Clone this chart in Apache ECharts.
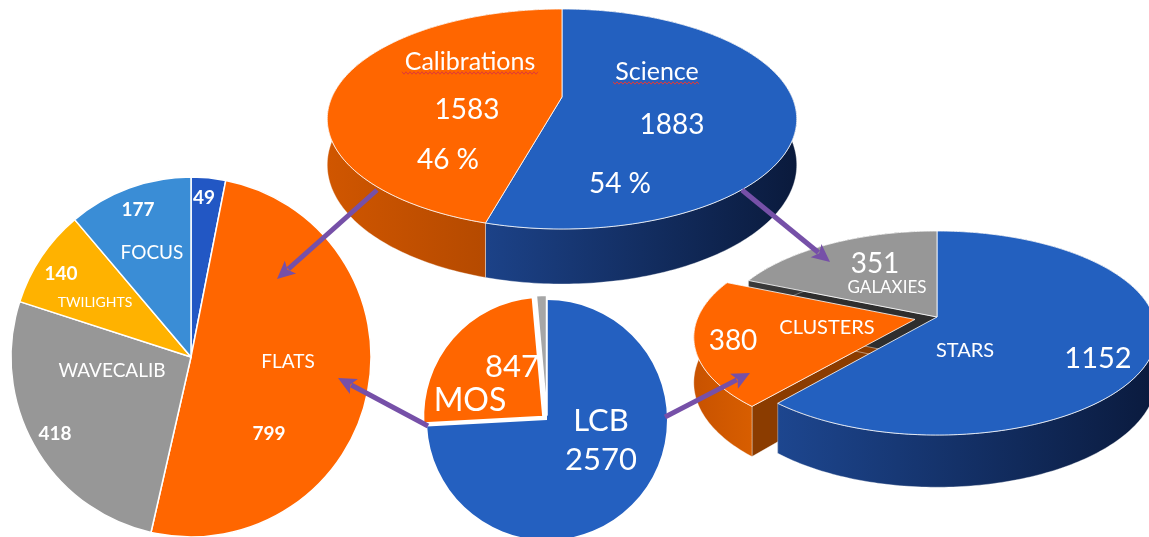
<!DOCTYPE html>
<html><head><meta charset="utf-8">
<script src="https://cdn.jsdelivr.net/npm/echarts@6/dist/echarts.min.js"></script>
<style>html,body{margin:0;padding:0;background:#fff;} #chart{width:1149px;height:537px;}</style>
</head><body><div id="chart"></div>
<script>
// ---------- DATA ----------
const topCategories = ['Science', 'Calibrations'];
const topValues = [1883, 1583];
const leftCategories = ['OTHER', 'FLATS', 'WAVECALIB', 'TWILIGHTS', 'FOCUS'];
const leftValues = [49, 799, 418, 140, 177];
const midCategories = ['LCB', 'MOS', 'OTHER'];
const midValues = [2570, 847, 49];
const rightCategories = ['STARS', 'CLUSTERS', 'GALAXIES'];
const rightValues = [1152, 380, 351];

// ---------- STYLE / LAYOUT ----------
const FONT = 'Lato, "Open Sans", sans-serif';
const ORANGE = '#FF6600', BLUE = '#2360BF';
const PURPLE = '#7650A8';

function lg(c0, c1) {
  return new echarts.graphic.LinearGradient(0, 0, 1, 0, [{offset: 0, color: c0}, {offset: 1, color: c1}]);
}

const topLayout = {
  ax: 562, ay: 97, A: 230, B: 105.6, k: 0.2, D: 44, walls: false,
  explode: [0, 0],
  colors: [BLUE, ORANGE],
  sideColors: [['#1c4288', '#0a1a3c'], ['#d05600', '#a84400']],
  wallColors: ['#0e2250', '#8b3c00'],
  namePos: [[657, 72], [470, 62]], nameSize: [25, 25],
  valuePos: [[672, 125], [467, 110]], valueSize: [28, 28],
  pctPos: [[620, 184], [448, 160]], pctSize: 28
};
const rightLayout = {
  ax: 937, ay: 317, A: 217, B: 99.5, k: 0.157, D: 44, walls: true,
  explode: [0, 0.104, 0],
  colors: [BLUE, ORANGE, '#979797'],
  sideColors: [['#1d468f', '#0a1a3d'], ['#c85200', '#d85e00'], ['#3a3a3a', '#2a2a2a']],
  wallColors: ['#0e2250', '#8b3c00', '#2e2e2e'],
  namePos: [[965, 351], [827, 328], [887, 288]], nameSize: [20, 20, 17],
  valuePos: [[1098, 359], [733, 341], [875, 264]], valueSize: [29, 28, 28],
  pctPos: null
};

function make3D(names, values, cfg) {
  const total = values.reduce((a, b) => a + b, 0);
  const starts = []; let acc = 0;
  values.forEach(v => { starts.push(acc); acc += v; });
  function proj(u, v, dz) {
    const w = 1 - cfg.k * v;
    return [cfg.ax + cfg.A * u / w, cfg.ay + (cfg.B * v + dz * cfg.D) / w];
  }
  return {
    type: 'custom', coordinateSystem: 'none', silent: true, z: 2,
    data: values.map((v, i) => ({name: names[i], value: [v]})),
    renderItem: function (params, api) {
      const i = params.dataIndex;
      const val = api.value(0);
      const t1 = starts[i] / total * Math.PI * 2;
      const t2 = (starts[i] + val) / total * Math.PI * 2;
      const tm = (t1 + t2) / 2;
      const e = cfg.explode[i] || 0;
      const eu = e * Math.sin(tm), ev = -e * Math.cos(tm);
      const n = Math.max(2, Math.ceil((t2 - t1) / (Math.PI / 180)));
      const arcTop = [], arcBot = [];
      for (let j = 0; j <= n; j++) {
        const t = t1 + (t2 - t1) * j / n;
        const u = eu + Math.sin(t), v = ev - Math.cos(t);
        arcTop.push(proj(u, v, 0)); arcBot.push(proj(u, v, 1));
      }
      const children = [];
      if (cfg.walls) {
        [t1, t2].forEach(t => {
          const u = eu + Math.sin(t), v = ev - Math.cos(t);
          children.push({type: 'polygon', z2: 1,
            shape: {points: [proj(eu, ev, 0), proj(u, v, 0), proj(u, v, 1), proj(eu, ev, 1)]},
            style: {fill: cfg.wallColors[i], stroke: 'rgba(255,255,255,0.55)', lineWidth: 0.8}});
        });
      }
      children.push({type: 'polygon', z2: 2,
        shape: {points: arcTop.concat(arcBot.slice().reverse())},
        style: {fill: lg(cfg.sideColors[i][0], cfg.sideColors[i][1]), stroke: 'rgba(255,255,255,0.45)', lineWidth: 0.8}});
      children.push({type: 'polygon', z2: 10,
        shape: {points: [proj(eu, ev, 0)].concat(arcTop)},
        style: {fill: cfg.colors[i], stroke: 'rgba(255,255,255,0.8)', lineWidth: 1}});
      const txt = (s, p, size) => ({type: 'text', z2: 20,
        style: {text: s, x: p[0], y: p[1], fill: '#fff', fontFamily: FONT, fontSize: size, align: 'center', verticalAlign: 'middle'}});
      children.push(txt(names[i], cfg.namePos[i], cfg.nameSize[i]));
      children.push(txt(String(val), cfg.valuePos[i], cfg.valueSize[i]));
      if (cfg.pctPos) children.push(txt(Math.round(val / total * 100) + ' %', cfg.pctPos[i], cfg.pctSize));
      return {type: 'group', children: children};
    }
  };
}

const leftColors = ['#2257C4', ORANGE, '#979797', '#FFB200', '#3A8DD6'];
const leftNamePos = [null, [288, 362], [112, 371], [95, 302], [152, 253]];
const leftNameSize = [19, 19, 19, 14, 19];
const leftValuePos = [[204, 198], [269, 434], [55, 434], [61, 274], [138, 210]];
const midColors = ['#2460C0', ORANGE, '#A6A6A6'];
const midNamePos = [[601, 421], [470, 401], null];
const midNameSize = [31, 32, 31];
const midValuePos = [[601, 460], [512, 367], null];

function posLayout(arr) {
  return function (p) {
    const q = arr[p.dataIndex];
    if (!q) return {};
    return {x: q[0], y: q[1], align: 'center', verticalAlign: 'middle'};
  };
}

const leftPieBase = {type: 'pie', center: [191, 357], radius: 180, startAngle: 90, clockwise: true, silent: true, z: 3, labelLine: {show: false}};
const midPieBase = {type: 'pie', center: [547, 420], radius: 120, startAngle: 90, clockwise: true, silent: true, z: 3, labelLine: {show: false}};

const series = [
  make3D(topCategories, topValues, topLayout),
  make3D(rightCategories, rightValues, rightLayout),
  Object.assign({}, leftPieBase, {
    data: leftCategories.map((n, i) => ({name: n, value: leftValues[i],
      itemStyle: {color: leftColors[i]}, label: {fontSize: leftNameSize[i]}})),
    itemStyle: {borderColor: '#fff', borderWidth: 1.5},
    label: {show: true, position: 'inside', color: '#fff', fontFamily: FONT,
      formatter: p => (leftNamePos[p.dataIndex] ? p.name : '')},
    labelLayout: posLayout(leftNamePos)
  }),
  Object.assign({}, leftPieBase, {
    z: 4,
    data: leftCategories.map((n, i) => ({name: n, value: leftValues[i]})),
    itemStyle: {color: 'rgba(0,0,0,0)', borderWidth: 0},
    label: {show: true, position: 'inside', color: '#fff', fontFamily: FONT, fontWeight: 'bold', fontSize: 19, formatter: '{c}'},
    labelLayout: posLayout(leftValuePos)
  }),
  // middle pie: slices (MOS and the small slice pulled out)
  Object.assign({}, midPieBase, {
    selectedMode: 'multiple', selectedOffset: 5,
    data: midCategories.map((n, i) => ({name: n, value: midValues[i], selected: i > 0,
      itemStyle: i > 0 ? {color: midColors[i], borderColor: '#fff', borderWidth: 2} : {color: midColors[i], borderWidth: 0}})),
    label: {show: false}
  }),
  // middle pie: name labels
  Object.assign({}, midPieBase, {
    z: 4,
    data: midCategories.map((n, i) => ({name: n, value: midValues[i], label: {fontSize: midNameSize[i]}})),
    itemStyle: {color: 'rgba(0,0,0,0)', borderWidth: 0},
    label: {show: true, position: 'inside', color: '#fff', fontFamily: FONT,
      formatter: p => (midNamePos[p.dataIndex] ? p.name : '')},
    labelLayout: posLayout(midNamePos)
  }),
  // middle pie: value labels
  Object.assign({}, midPieBase, {
    z: 4,
    data: midCategories.map((n, i) => ({name: n, value: midValues[i]})),
    itemStyle: {color: 'rgba(0,0,0,0)', borderWidth: 0},
    label: {show: true, position: 'inside', color: '#fff', fontFamily: FONT, fontSize: 31,
      formatter: p => (midValuePos[p.dataIndex] ? String(p.value) : '')},
    labelLayout: posLayout(midValuePos)
  })
];

// ---------- ANNOTATIONS (arrows, spell-check squiggles) ----------
const arrows = [[377, 190, 277, 279], [742, 190, 830, 262], [428, 426, 338, 378], [665, 417, 750, 373]];
function arrowEls(a) {
  const [x1, y1, x2, y2] = a;
  const dx = x2 - x1, dy = y2 - y1, L = Math.hypot(dx, dy);
  const ux = dx / L, uy = dy / L, hl = 18, hw = 8.5;
  const bx = x2 - ux * hl, by = y2 - uy * hl;
  return [
    {type: 'line', z: 100, shape: {x1: x1, y1: y1, x2: bx + ux * 3, y2: by + uy * 3}, style: {stroke: PURPLE, lineWidth: 5}},
    {type: 'polygon', z: 100, shape: {points: [[x2, y2], [bx - uy * hw, by + ux * hw], [bx + ux * 4, by + uy * 4], [bx + uy * hw, by - ux * hw]]}, style: {fill: PURPLE}}
  ];
}
function squiggle(x0, x1, y) {
  const pts = [];
  for (let x = x0, s = 0; x <= x1; x += 2, s++) pts.push([x, y + (s % 2 ? 1.2 : -1.2)]);
  return {type: 'polyline', z: 50, shape: {points: pts}, style: {stroke: '#e03a3a', lineWidth: 1, fill: null}};
}
const graphics = [].concat(...arrows.map(arrowEls), [squiggle(402, 538, 73), squiggle(613, 700, 83)]);

const chart = echarts.init(document.getElementById('chart'), null, {renderer: 'canvas'});
chart.setOption({
  backgroundColor: '#ffffff',
  animation: false,
  series: series,
  graphic: graphics
});
</script></body></html>
